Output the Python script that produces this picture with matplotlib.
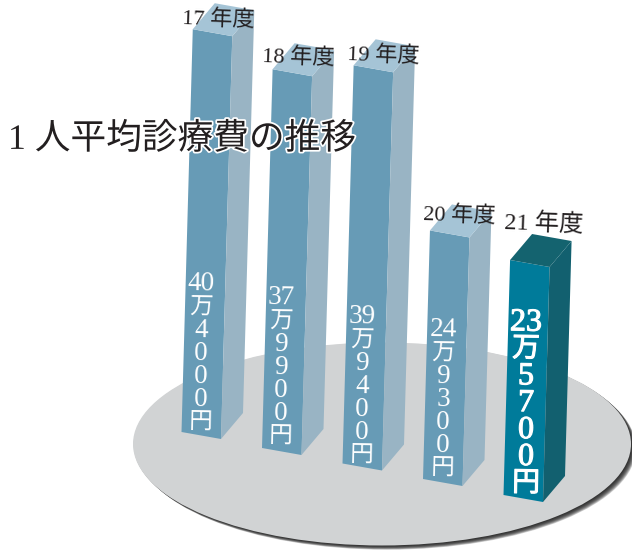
#!/usr/bin/env python3
"""Average medical cost per person: pseudo-3D columns standing on a grey disc."""

import matplotlib

matplotlib.use("Agg")
import matplotlib.patheffects as pe
import matplotlib.pyplot as plt
from matplotlib.patches import Ellipse, Polygon

years = ["17 年度", "18 年度", "19 年度", "20 年度", "21 年度"]
yen_per_person = [404000, 379900, 399400, 249300, 235700]
title = "1 人平均診療費の推移"

# canvas layout, in pixels from the top-left corner
PX_PER_YEN = 9.97 / 10000
LEAN = 0.028
FRONT = (39.5, 7.0)
DEPTH = (22.0, -26.0)
base_x = [181.5, 262.0, 342.5, 423.0, 503.5]
base_y = [432.0, 448.0, 463.5, 479.0, 495.0]
year_xy = [(218, 20), (298, 58), (383, 56), (459, 216), (544, 224)]
year_size = [16, 16, 16, 16, 17.5]
label_x = [201, 281, 362, 443, 526]
label_top = [284, 298, 317, 330, 323]

SERIF = ["Liberation Serif", "Noto Sans CJK JP"]
PALE = {"front": "#679bb6", "side": "#99b4c4", "top": "#a5c4d6"}
DARK = {"front": "#007b9a", "side": "#12606f", "top": "#14636f"}


def draw_column(ax, x0, y0, height, colors, z):
    top_x = x0 + LEAN * height
    top_y = y0 - height
    fx, fy = FRONT
    dx, dy = DEPTH
    ax.add_patch(Polygon(
        [(x0, y0), (x0 + fx, y0 + fy), (top_x + fx, top_y + fy), (top_x, top_y)],
        facecolor=colors["front"], edgecolor="none", zorder=z))
    ax.add_patch(Polygon(
        [(x0 + fx, y0 + fy), (x0 + fx + dx, y0 + fy + dy),
         (top_x + fx + dx, top_y + fy + dy), (top_x + fx, top_y + fy)],
        facecolor=colors["side"], edgecolor="none", zorder=z))
    ax.add_patch(Polygon(
        [(top_x, top_y), (top_x + fx, top_y + fy),
         (top_x + fx + dx, top_y + fy + dy), (top_x + dx, top_y + dy)],
        facecolor=colors["top"], edgecolor="none", zorder=z))


def vertical_label(yen):
    # 404000 -> ["40", "万", "4", "0", "0", "0", "円"]
    man, rest = divmod(yen, 10000)
    return [str(man), "万"] + list(f"{rest:04d}") + ["円"]


fig = plt.figure(figsize=(6.32, 5.51), dpi=100)
ax = fig.add_axes([0, 0, 1, 1])
ax.set_xlim(0, 632)
ax.set_ylim(551, 0)
ax.axis("off")

# disc with a soft shadow falling to the lower right
for i in range(1, 11):
    ax.add_patch(Ellipse((382 + 0.5 * i, 444 + 0.42 * i), 498, 203,
                         facecolor="#1c1c1c", edgecolor="none", alpha=0.2, zorder=1))
ax.add_patch(Ellipse((382, 444), 498, 203, facecolor="#d1d3d4", edgecolor="none", zorder=2))

for i, yen in enumerate(yen_per_person):
    is_latest = i == len(yen_per_person) - 1
    height = yen * PX_PER_YEN
    draw_column(ax, base_x[i], base_y[i], height, DARK if is_latest else PALE, 3 + i)

    ax.text(year_xy[i][0], year_xy[i][1], years[i], family=SERIF, fontsize=year_size[i],
            color="#231f20", ha="center", va="center", rotation=-2, zorder=20)

    step = 26.9 if is_latest else 23.2
    # the latest year gets thickened white figures
    thicken = [pe.withStroke(linewidth=0.8, foreground="white")] if is_latest else []
    for j, ch in enumerate(vertical_label(yen)):
        if ch in "万円":
            size = 20 if is_latest else 17
        else:
            size = 23 if is_latest else 19.5
        ax.text(label_x[i], label_top[i] + j * step, ch,
                family=SERIF, fontsize=size, color="white",
                ha="center", va="center", rotation=-1, zorder=10 + i, path_effects=thicken)

ax.text(8, 140, title, family=SERIF, fontsize=25.7, color="#231f20", ha="left", va="center",
        zorder=30, path_effects=[pe.withStroke(linewidth=2.5, foreground="white")])

fig.savefig("out.png", dpi=100)
plt.close(fig)
